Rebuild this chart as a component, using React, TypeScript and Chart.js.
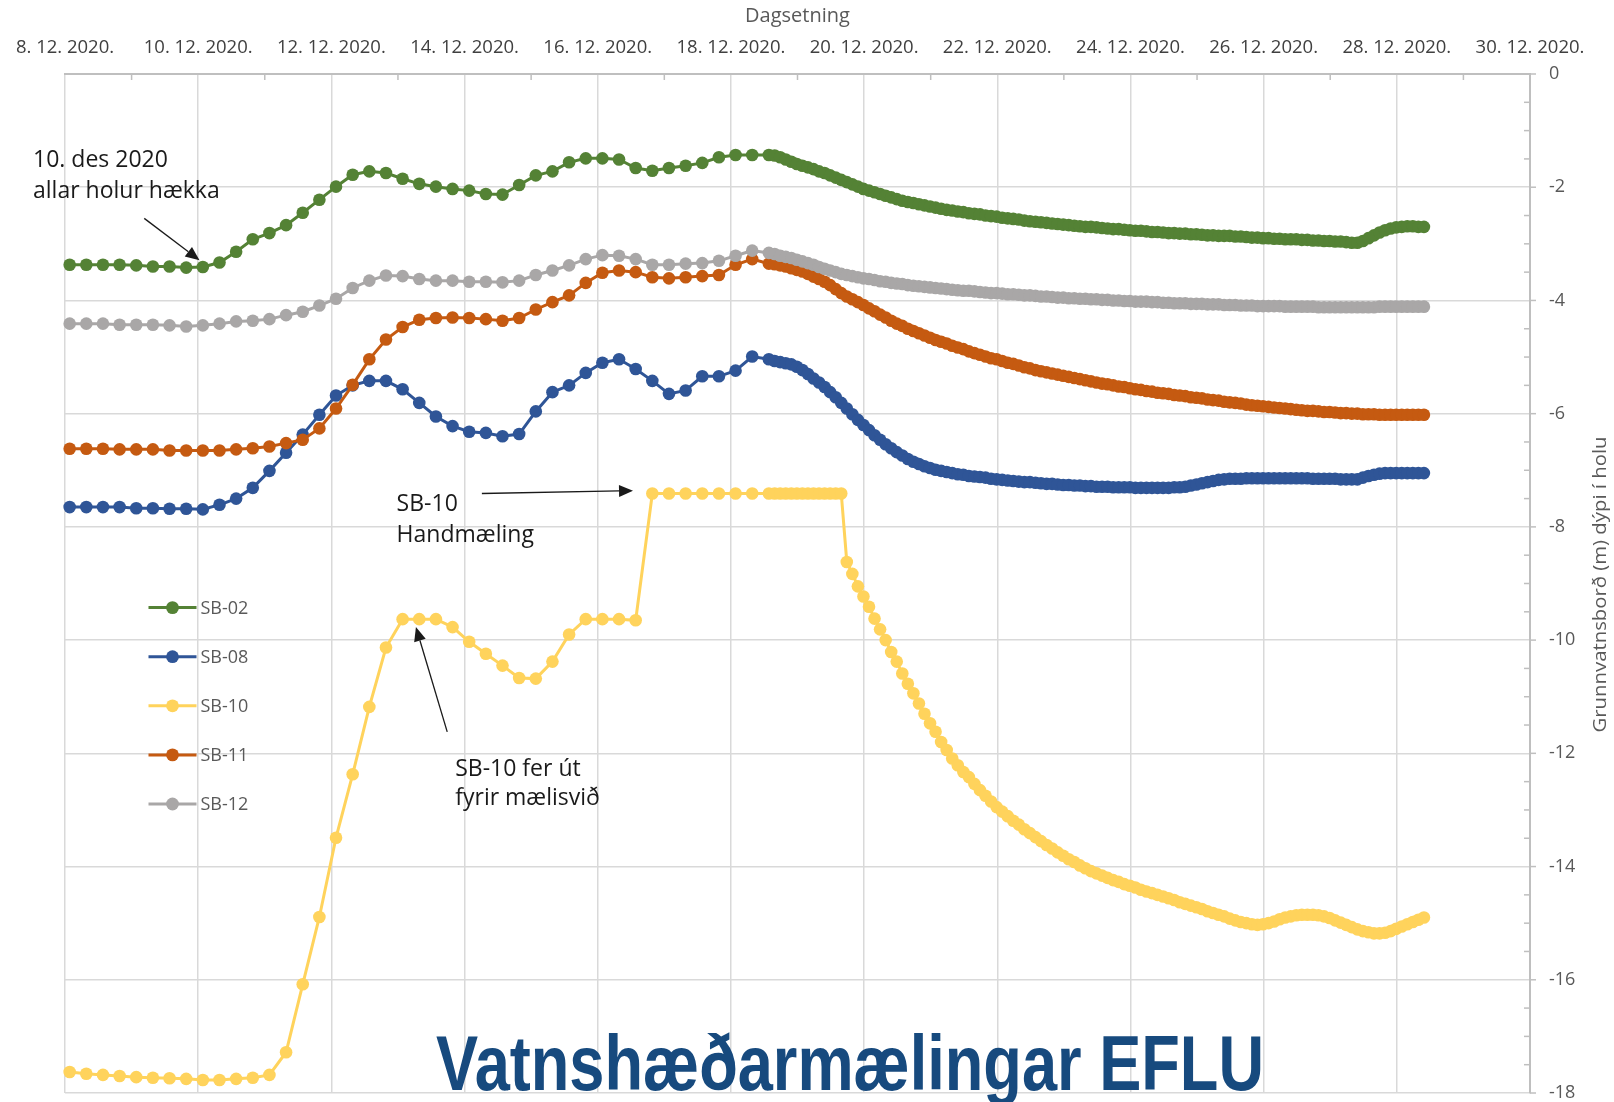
import React, { useEffect, useRef } from 'react';
import { Chart, registerables } from 'chart.js';

Chart.register(...registerables);

// ---------- DATA ----------
const DATE_TICKS = [
  '8. 12. 2020.', '10. 12. 2020.', '12. 12. 2020.', '14. 12. 2020.', '16. 12. 2020.', '18. 12. 2020.',
  '20. 12. 2020.', '22. 12. 2020.', '24. 12. 2020.', '26. 12. 2020.', '28. 12. 2020.', '30. 12. 2020.',
];
const X_TITLE = 'Dagsetning';
const Y_TITLE = 'Grunnvatnsborð (m) dýpi í holu';
const MAIN_TITLE = 'Vatnshæðarmælingar EFLU';
const SERIES_NAMES = ['SB-02', 'SB-08', 'SB-10', 'SB-11', 'SB-12'];
const SERIES_COLORS = ['#548235', '#2f5597', '#ffd35c', '#c55a11', '#a9a7a7'];

// Logger schedule, in days after 8.12.2020 00:00
const START_6H = 0.07;    // 6-hourly readings up to ~18.12
const STEP_6H = 6 / 24;
const START_2H = 10.657;  // 2-hourly readings afterwards
const STEP_2H = 2 / 24;

// Water level (m), 6-hourly part (43 readings)
const SB02_6H = [
  -3.37, -3.37, -3.37, -3.37, -3.38, -3.40, -3.40, -3.42, -3.41, -3.33,
  -3.14, -2.92, -2.81, -2.67, -2.45, -2.22, -1.99, -1.78, -1.72, -1.75,
  -1.85, -1.94, -1.99, -2.03, -2.06, -2.12, -2.13, -1.96, -1.79, -1.72,
  -1.56, -1.49, -1.49, -1.51, -1.66, -1.71, -1.66, -1.62, -1.57, -1.47,
  -1.43, -1.43, -1.43,
];
const SB08_6H = [
  -7.65, -7.65, -7.65, -7.65, -7.67, -7.67, -7.68, -7.68, -7.69, -7.61,
  -7.50, -7.31, -7.01, -6.69, -6.37, -6.02, -5.68, -5.50, -5.42, -5.42,
  -5.57, -5.81, -6.05, -6.22, -6.32, -6.34, -6.40, -6.36, -5.96, -5.62,
  -5.50, -5.28, -5.10, -5.04, -5.21, -5.42, -5.65, -5.59, -5.34, -5.34,
  -5.24, -4.99, -5.04,
];
const SB10_6H = [
  -17.63, -17.66, -17.68, -17.70, -17.72, -17.73, -17.74, -17.75, -17.77, -17.77,
  -17.75, -17.73, -17.68, -17.28, -16.08, -14.89, -13.49, -12.37, -11.18, -10.13,
  -9.63, -9.63, -9.63, -9.77, -10.03, -10.24, -10.45, -10.67, -10.68, -10.38,
  -9.90, -9.63, -9.63, -9.63, -9.65, -7.41, -7.41, -7.41, -7.41, -7.41,
  -7.41, -7.41, -7.41,
];
const SB11_6H = [
  -6.62, -6.62, -6.62, -6.63, -6.63, -6.63, -6.65, -6.65, -6.65, -6.65,
  -6.63, -6.61, -6.58, -6.52, -6.46, -6.26, -5.91, -5.49, -5.04, -4.69,
  -4.47, -4.34, -4.31, -4.30, -4.31, -4.33, -4.36, -4.31, -4.16, -4.03,
  -3.91, -3.69, -3.51, -3.47, -3.50, -3.59, -3.61, -3.59, -3.57, -3.55,
  -3.37, -3.27, -3.35,
];
const SB12_6H = [
  -4.41, -4.41, -4.41, -4.43, -4.43, -4.43, -4.44, -4.46, -4.44, -4.41,
  -4.37, -4.36, -4.33, -4.26, -4.20, -4.09, -3.97, -3.78, -3.65, -3.56,
  -3.57, -3.62, -3.65, -3.65, -3.67, -3.67, -3.68, -3.65, -3.55, -3.47,
  -3.38, -3.27, -3.20, -3.21, -3.27, -3.37, -3.37, -3.35, -3.34, -3.30,
  -3.21, -3.12, -3.16,
];

// Water level (m), 2-hourly part (118 readings, 12 per line = one day)
const SB02_2H = [
  -1.44, -1.47, -1.51, -1.55, -1.59, -1.62, -1.65, -1.68, -1.72, -1.75, -1.79, -1.83,
  -1.87, -1.91, -1.95, -1.99, -2.03, -2.06, -2.09, -2.12, -2.15, -2.18, -2.21, -2.24,
  -2.26, -2.28, -2.30, -2.32, -2.34, -2.36, -2.38, -2.40, -2.41, -2.43, -2.44, -2.46,
  -2.47, -2.48, -2.50, -2.51, -2.52, -2.54, -2.55, -2.56, -2.57, -2.59, -2.60, -2.61,
  -2.62, -2.63, -2.64, -2.65, -2.66, -2.67, -2.68, -2.69, -2.70, -2.70, -2.71, -2.72,
  -2.73, -2.74, -2.74, -2.75, -2.76, -2.77, -2.77, -2.78, -2.79, -2.79, -2.80, -2.81,
  -2.81, -2.82, -2.82, -2.83, -2.83, -2.84, -2.85, -2.85, -2.86, -2.86, -2.86, -2.87,
  -2.87, -2.88, -2.89, -2.89, -2.90, -2.90, -2.91, -2.91, -2.92, -2.92, -2.92, -2.93,
  -2.93, -2.94, -2.94, -2.95, -2.95, -2.96, -2.96, -2.97, -2.98, -2.98, -2.95, -2.90,
  -2.85, -2.80, -2.76, -2.73, -2.71, -2.70, -2.69, -2.69, -2.70, -2.70,
];
const SB08_2H = [
  -5.07, -5.09, -5.11, -5.13, -5.17, -5.23, -5.30, -5.38, -5.45, -5.53, -5.62, -5.71,
  -5.81, -5.91, -6.01, -6.11, -6.20, -6.29, -6.38, -6.46, -6.54, -6.61, -6.68, -6.74,
  -6.80, -6.85, -6.89, -6.93, -6.96, -6.99, -7.01, -7.03, -7.05, -7.07, -7.08, -7.10,
  -7.11, -7.12, -7.13, -7.15, -7.16, -7.17, -7.18, -7.19, -7.20, -7.21, -7.21, -7.22,
  -7.23, -7.24, -7.24, -7.25, -7.26, -7.26, -7.27, -7.27, -7.28, -7.28, -7.29, -7.29,
  -7.29, -7.30, -7.30, -7.30, -7.30, -7.31, -7.31, -7.31, -7.31, -7.31, -7.31, -7.31,
  -7.30, -7.30, -7.29, -7.27, -7.25, -7.23, -7.21, -7.19, -7.17, -7.16, -7.15, -7.15,
  -7.15, -7.14, -7.14, -7.14, -7.14, -7.14, -7.14, -7.14, -7.14, -7.14, -7.14, -7.14,
  -7.14, -7.15, -7.15, -7.15, -7.15, -7.15, -7.16, -7.16, -7.16, -7.16, -7.13, -7.10,
  -7.08, -7.06, -7.05, -7.05, -7.05, -7.05, -7.05, -7.05, -7.05, -7.05,
];
const SB10_2H = [
  -7.41, -7.41, -7.41, -7.41, -7.41, -7.41, -7.41, -7.41, -7.41, -7.41, -7.41, -7.41,
  -7.41, -8.62, -8.83, -9.05, -9.23, -9.41, -9.62, -9.81, -10.00, -10.21, -10.38, -10.59,
  -10.77, -10.94, -11.12, -11.30, -11.47, -11.62, -11.80, -11.94, -12.09, -12.21, -12.33, -12.42,
  -12.54, -12.65, -12.75, -12.85, -12.95, -13.03, -13.11, -13.19, -13.26, -13.34, -13.41, -13.48,
  -13.55, -13.62, -13.68, -13.75, -13.81, -13.87, -13.92, -13.98, -14.03, -14.08, -14.12, -14.16,
  -14.20, -14.24, -14.27, -14.31, -14.34, -14.37, -14.41, -14.44, -14.47, -14.50, -14.53, -14.56,
  -14.59, -14.63, -14.66, -14.69, -14.72, -14.75, -14.79, -14.82, -14.85, -14.88, -14.92, -14.95,
  -14.98, -15.00, -15.02, -15.03, -15.02, -15.00, -14.97, -14.93, -14.90, -14.88, -14.86, -14.85,
  -14.85, -14.85, -14.86, -14.88, -14.91, -14.95, -14.99, -15.03, -15.07, -15.11, -15.14, -15.16,
  -15.18, -15.18, -15.17, -15.14, -15.10, -15.06, -15.02, -14.98, -14.94, -14.90,
];
const SB11_2H = [
  -3.36, -3.38, -3.40, -3.43, -3.46, -3.49, -3.53, -3.58, -3.62, -3.67, -3.73, -3.80,
  -3.87, -3.93, -3.98, -4.03, -4.08, -4.14, -4.19, -4.25, -4.30, -4.36, -4.41, -4.45,
  -4.50, -4.54, -4.58, -4.62, -4.66, -4.70, -4.73, -4.76, -4.80, -4.83, -4.86, -4.90,
  -4.93, -4.96, -4.99, -5.02, -5.04, -5.07, -5.10, -5.12, -5.15, -5.18, -5.20, -5.23,
  -5.25, -5.27, -5.29, -5.31, -5.33, -5.35, -5.37, -5.39, -5.41, -5.43, -5.45, -5.47,
  -5.48, -5.50, -5.52, -5.53, -5.55, -5.57, -5.58, -5.60, -5.61, -5.63, -5.64, -5.65,
  -5.67, -5.68, -5.69, -5.71, -5.72, -5.73, -5.75, -5.76, -5.77, -5.79, -5.80, -5.81,
  -5.82, -5.84, -5.85, -5.86, -5.87, -5.88, -5.89, -5.90, -5.91, -5.92, -5.93, -5.94,
  -5.95, -5.95, -5.96, -5.97, -5.97, -5.98, -5.99, -5.99, -6.00, -6.00, -6.01, -6.01,
  -6.01, -6.02, -6.02, -6.02, -6.02, -6.02, -6.02, -6.02, -6.02, -6.02,
];
const SB12_2H = [
  -3.18, -3.21, -3.23, -3.25, -3.28, -3.31, -3.34, -3.37, -3.41, -3.44, -3.47, -3.50,
  -3.53, -3.55, -3.57, -3.59, -3.61, -3.62, -3.64, -3.66, -3.67, -3.69, -3.70, -3.71,
  -3.73, -3.74, -3.75, -3.76, -3.77, -3.78, -3.79, -3.80, -3.81, -3.82, -3.83, -3.83,
  -3.84, -3.85, -3.86, -3.87, -3.87, -3.88, -3.89, -3.89, -3.90, -3.91, -3.91, -3.92,
  -3.93, -3.93, -3.94, -3.95, -3.95, -3.96, -3.96, -3.97, -3.97, -3.98, -3.98, -3.99,
  -3.99, -4.00, -4.00, -4.01, -4.01, -4.02, -4.02, -4.02, -4.03, -4.03, -4.04, -4.04,
  -4.05, -4.05, -4.05, -4.06, -4.06, -4.06, -4.07, -4.07, -4.07, -4.08, -4.08, -4.08,
  -4.09, -4.09, -4.09, -4.10, -4.10, -4.10, -4.10, -4.10, -4.11, -4.11, -4.11, -4.11,
  -4.11, -4.11, -4.12, -4.12, -4.12, -4.12, -4.12, -4.12, -4.12, -4.12, -4.12, -4.12,
  -4.12, -4.11, -4.11, -4.11, -4.11, -4.11, -4.11, -4.11, -4.11, -4.11,
];

const SERIES_6H = [SB02_6H, SB08_6H, SB10_6H, SB11_6H, SB12_6H];
const SERIES_2H = [SB02_2H, SB08_2H, SB10_2H, SB11_2H, SB12_2H];

// Annotations (in data units: days after 8.12, metres)
const NOTES = [
  { lines: ['10. des 2020', 'allar holur hækka'], x: -0.48, y: [-1.64, -2.19], from: [1.19, -2.55], to: [2.02, -3.29] },
  { lines: ['SB-10', 'Handmæling'], x: 4.98, y: [-7.72, -8.26], from: [6.26, -7.41], to: [8.53, -7.36] },
  { lines: ['SB-10 fer út', 'fyrir mælisvið'], x: 5.86, y: [-12.40, -12.92], from: [5.74, -11.62], to: [5.27, -9.77] },
];

// ---------- helpers ----------
function buildPoints(a: number[], b: number[]) {
  const pts: { x: number; y: number }[] = [];
  a.forEach((v, i) => pts.push({ x: START_6H + i * STEP_6H, y: v }));
  b.forEach((v, i) => pts.push({ x: START_2H + i * STEP_2H, y: v }));
  return pts;
}

function drawArrow(ctx: CanvasRenderingContext2D, x1: number, y1: number, x2: number, y2: number) {
  const ang = Math.atan2(y2 - y1, x2 - x1);
  const hl = 14, hw = 6;
  const bx = x2 - hl * Math.cos(ang), by = y2 - hl * Math.sin(ang);
  ctx.beginPath();
  ctx.moveTo(x1, y1);
  ctx.lineTo(bx, by);
  ctx.stroke();
  ctx.beginPath();
  ctx.moveTo(x2, y2);
  ctx.lineTo(bx + hw * Math.sin(ang), by - hw * Math.cos(ang));
  ctx.lineTo(bx - hw * Math.sin(ang), by + hw * Math.cos(ang));
  ctx.closePath();
  ctx.fill();
}

const decorPlugin = {
  id: 'decor',
  afterDraw(chart: any) {
    const { ctx, chartArea: ca, scales } = chart;
    const xs = scales.x, ys = scales.y;
    ctx.save();

    // tick marks
    ctx.strokeStyle = '#bfbfbf';
    ctx.lineWidth = 1.5;
    for (let d = 1; d < 22; d += 2) {
      const px = xs.getPixelForValue(d);
      ctx.beginPath(); ctx.moveTo(px, ca.top); ctx.lineTo(px, ca.top + 6); ctx.stroke();
    }
    for (let v = -0.5; v > -18; v -= 0.5) {
      if (Math.abs(v % 2) < 1e-6) continue;
      const py = ys.getPixelForValue(v);
      ctx.beginPath(); ctx.moveTo(ca.right - 6, py); ctx.lineTo(ca.right, py); ctx.stroke();
    }
    for (let v = 0; v >= -18; v -= 2) {
      const py = ys.getPixelForValue(v);
      ctx.beginPath(); ctx.moveTo(ca.right, py); ctx.lineTo(ca.right + 6, py); ctx.stroke();
    }

    // y axis title (reads bottom to top)
    ctx.save();
    ctx.translate(1601, (ca.top + ca.bottom) / 2 + 1);
    ctx.rotate(-Math.PI / 2);
    ctx.font = '19px "Open Sans", sans-serif';
    const tw = ctx.measureText(Y_TITLE).width;
    ctx.scale(296 / tw, 1);
    ctx.fillStyle = '#595959';
    ctx.textAlign = 'center';
    ctx.textBaseline = 'middle';
    ctx.fillText(Y_TITLE, 0, 0);
    ctx.restore();

    // legend
    chart.data.datasets.forEach((ds: any, i: number) => {
      const y = ca.top + 533.6 + 49.1 * i;
      const x0 = ca.left + 83.5;
      ctx.strokeStyle = ds.borderColor;
      ctx.lineWidth = 3;
      ctx.beginPath(); ctx.moveTo(x0, y); ctx.lineTo(x0 + 48, y); ctx.stroke();
      ctx.fillStyle = ds.borderColor;
      ctx.beginPath(); ctx.arc(x0 + 24, y, 6.4, 0, Math.PI * 2); ctx.fill();
      ctx.fillStyle = '#595959';
      ctx.font = '18px "Open Sans", sans-serif';
      ctx.textAlign = 'left';
      ctx.textBaseline = 'middle';
      ctx.fillText(ds.label, x0 + 52, y + 1);
    });

    // annotations
    ctx.fillStyle = '#1a1a1a';
    ctx.strokeStyle = '#1a1a1a';
    ctx.lineWidth = 1.3;
    ctx.font = '23px "Open Sans", sans-serif';
    ctx.textAlign = 'left';
    ctx.textBaseline = 'alphabetic';
    NOTES.forEach((n) => {
      const tx = xs.getPixelForValue(n.x);
      n.lines.forEach((ln, i) => ctx.fillText(ln, tx, ys.getPixelForValue(n.y[i])));
      drawArrow(ctx,
        xs.getPixelForValue(n.from[0]), ys.getPixelForValue(n.from[1]),
        xs.getPixelForValue(n.to[0]), ys.getPixelForValue(n.to[1]));
    });

    // big overlay title
    ctx.font = 'bold 78px "Liberation Sans Narrow", "Liberation Sans", Arial, sans-serif';
    const w = ctx.measureText(MAIN_TITLE).width;
    ctx.translate(436, 1090);
    ctx.scale(828 / w, 1);
    ctx.fillStyle = '#174a7e';
    ctx.textAlign = 'left';
    ctx.textBaseline = 'alphabetic';
    ctx.fillText(MAIN_TITLE, 0, 0);

    ctx.restore();
  },
};

export default function App() {
  const ref = useRef<HTMLCanvasElement | null>(null);

  useEffect(() => {
    if (!ref.current) return;
    const datasets = SERIES_NAMES.map((name, i) => ({
      label: name,
      data: buildPoints(SERIES_6H[i], SERIES_2H[i]),
      borderColor: SERIES_COLORS[i],
      backgroundColor: SERIES_COLORS[i],
      pointBackgroundColor: SERIES_COLORS[i],
      pointBorderWidth: 0,
      pointRadius: 6.3,
      borderWidth: 3,
      tension: 0,
      clip: false as any,
      order: SERIES_NAMES.length - i,
    }));

    const chart = new Chart(ref.current, {
      type: 'line',
      data: { datasets },
      options: {
        responsive: false,
        animation: false,
        devicePixelRatio: 1,
        events: [],
        layout: { padding: { left: 65, right: 0, top: 0, bottom: 9 } },
        plugins: { legend: { display: false }, tooltip: { enabled: false } },
        scales: {
          x: {
            type: 'linear',
            position: 'top',
            min: 0,
            max: 22,
            afterFit: (s: any) => { s.height = 74; },
            ticks: {
              stepSize: 2,
              autoSkip: false,
              maxRotation: 0,
              padding: 15,
              color: '#404040',
              font: { family: '"Open Sans", sans-serif', size: 18.5 },
              callback: (v: any) => DATE_TICKS[Math.round(Number(v) / 2)] ?? '',
            },
            grid: { color: '#d9d9d9', lineWidth: 1.5, drawTicks: false },
            border: { display: true, color: '#bfbfbf', width: 2 },
            title: {
              display: true,
              text: X_TITLE,
              color: '#595959',
              font: { family: '"Open Sans", sans-serif', size: 20 },
              padding: { top: 4, bottom: 0 },
            },
          },
          y: {
            type: 'linear',
            position: 'right',
            min: -18,
            max: 0,
            afterFit: (s: any) => { s.width = 84; },
            ticks: {
              stepSize: 2,
              padding: 0,
              color: '#595959',
              font: { family: '"Open Sans", sans-serif', size: 18, lineHeight: 1 },
            },
            grid: { color: '#d9d9d9', lineWidth: 1.5, tickLength: 19, drawTicks: true, tickColor: 'rgba(0,0,0,0)' },
            border: { display: true, color: '#bfbfbf', width: 2 },
          },
        },
      },
      plugins: [decorPlugin],
    });
    return () => chart.destroy();
  }, []);

  return (
    <div style={{ position: 'fixed', left: 0, top: 0, width: 1614, height: 1102, background: '#ffffff' }}>
      <canvas ref={ref} width={1614} height={1102} style={{ display: 'block', width: 1614, height: 1102 }} />
    </div>
  );
}
